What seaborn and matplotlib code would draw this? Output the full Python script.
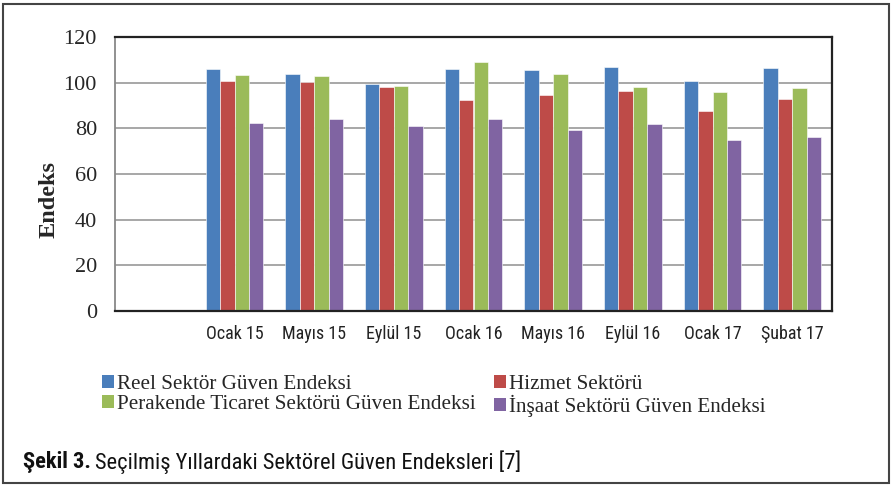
import matplotlib
matplotlib.use("Agg")
import matplotlib.pyplot as plt
from matplotlib.patches import Rectangle, Patch
import seaborn as sns
import pandas as pd

categories = ["", "Ocak 15", "Mayıs 15", "Eylül 15", "Ocak 16", "Mayıs 16",
              "Eylül 16", "Ocak 17", "Şubat 17"]
periods = ["Ocak 15", "Mayıs 15", "Eylül 15", "Ocak 16", "Mayıs 16",
           "Eylül 16", "Ocak 17", "Şubat 17"]
series_names = ["Reel Sektör Güven Endeksi", "Hizmet Sektörü",
                "Perakende Ticaret Sektörü Güven Endeksi", "İnşaat Sektörü Güven Endeksi"]
reel = [106.0, 103.8, 99.6, 105.8, 105.7, 107.0, 100.6, 106.4]
hizmet = [100.7, 100.4, 98.0, 92.4, 94.5, 96.2, 87.5, 92.8]
perakende = [103.5, 103.1, 98.4, 108.9, 103.8, 98.0, 95.9, 97.8]
insaat = [82.3, 84.1, 80.9, 84.1, 79.3, 81.9, 74.8, 76.4]
colors = ["#4A7EBB", "#BE4B48", "#9BBB59", "#8064A2"]
yticks = [0, 20, 40, 60, 80, 100, 120]

rows = []
for name, vals in zip(series_names, [reel, hizmet, perakende, insaat]):
    for p, v in zip(periods, vals):
        rows.append({"period": p, "series": name, "value": v})
df = pd.DataFrame(rows)

sns.set_theme(style="white")
plt.rcParams["font.family"] = ["Liberation Serif", "DejaVu Serif"]

NARROW = ["Liberation Sans Narrow", "Roboto Condensed", "Open Sans Condensed",
          "Liberation Sans", "DejaVu Sans"]

fig = plt.figure(figsize=(8.93, 4.86), dpi=100)
ax = fig.add_axes([115/893, 1-311/486, (832-115)/893, (311-37)/486])

sns.barplot(data=df, x="period", y="value", hue="series", order=categories,
            hue_order=series_names, palette=colors, width=0.72, ax=ax,
            saturation=1, legend=False, edgecolor="white", linewidth=0.4)

ax.set_ylim(0, 120)
ax.set_xlim(-0.5, len(categories) - 0.5)
ax.set_yticks(yticks)
ax.set_yticklabels([str(t) for t in yticks], fontsize=16,
                   family=["Liberation Serif"])
ax.tick_params(axis="y", length=0, pad=13)
ax.tick_params(axis="x", length=0, pad=10)
for lab in ax.get_xticklabels():
    lab.set_family(NARROW)
    lab.set_fontsize(13)
    lab.set_color("#222222")
ax.set_xlabel("")
ax.set_ylabel("Endeks", fontsize=17.5, fontweight="bold",
              family=["Liberation Serif"])
ax.yaxis.set_label_coords((60 - 115) / 717, (311 - 199) / 274)
ax.yaxis.grid(True, color="#A0A0A0", linewidth=1.3)
ax.set_axisbelow(True)
for s in ["top", "right", "bottom"]:
    ax.spines[s].set_color("#222222")
    ax.spines[s].set_linewidth(1.6)
ax.spines["left"].set_color("#888888")
ax.spines["left"].set_linewidth(1.3)

handles = [Patch(facecolor=c, edgecolor="none") for c in colors]
order = [0, 2, 1, 3]
leg = fig.legend([handles[i] for i in order], [series_names[i] for i in order],
                 ncol=2, loc="center left", bbox_to_anchor=(102/893, 1-396/486),
                 frameon=False, handlelength=0.57, handleheight=0.57,
                 handletextpad=0.15, columnspacing=0.85, labelspacing=0.05,
                 borderaxespad=0, borderpad=0,
                 prop={"family": ["Liberation Serif"], "size": 15.2})

cap_y = 1 - 462/486
t1 = fig.text(23/893, cap_y, "Şekil 3.", fontsize=16.2, fontweight="bold",
              family=NARROW, va="center", ha="left", color="#111111")
fig.canvas.draw()
bb = t1.get_window_extent()
fig.text((bb.x1 + 4)/893, cap_y, "Seçilmiş Yıllardaki Sektörel Güven Endeksleri [7]",
         fontsize=16.2, family=NARROW, va="center", ha="left", color="#111111")

fig.add_artist(Rectangle((3/893, 3/486), 886/893, 479/486, transform=fig.transFigure,
                         fill=False, edgecolor="#444444", linewidth=1.5))

fig.savefig("out.png", dpi=100)
